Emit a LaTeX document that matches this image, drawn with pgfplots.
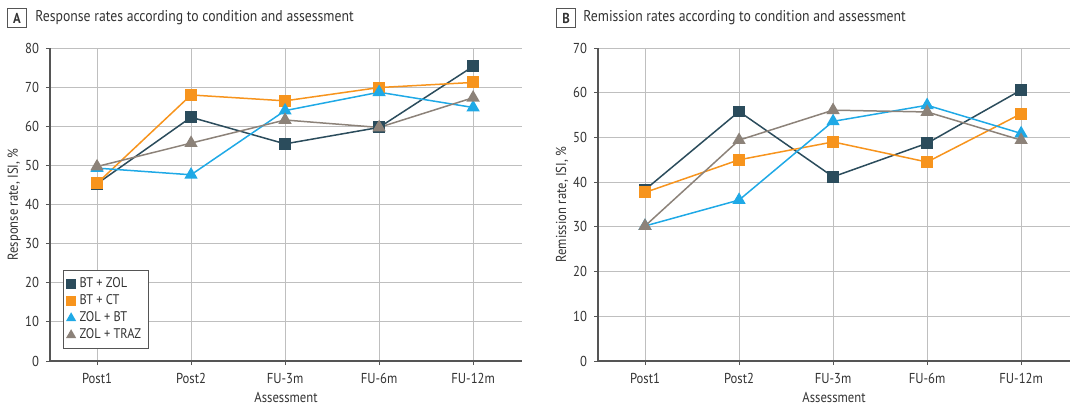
\documentclass[border=0pt]{standalone}
\usepackage{pgfplots}
\pgfplotsset{compat=1.18}
\usepackage{fontspec}
\setmainfont{PT Sans}[FakeStretch=0.88]
\definecolor{btzol}{HTML}{2B4C5C}
\definecolor{btct}{HTML}{F7941D}
\definecolor{zolbt}{HTML}{1FA9E6}
\definecolor{zoltraz}{HTML}{8C8279}
\definecolor{axgray}{HTML}{555555}
\definecolor{grid}{HTML}{DCDCDC}
\definecolor{txt}{HTML}{333333}
\pgfplotsset{
  panel/.style={
    scale only axis, width=236pt, height=156.5pt,
    anchor=south west,
    xmin=-0.5, xmax=4.52,
    axis x line*=bottom, axis y line*=left,
    axis line style={axgray, line width=0.6pt},
    xtick={0,1,2,3,4},
    xticklabels={Post1,Post2,FU-3m,FU-6m,FU-12m},
    tick align=outside, major tick length=2pt,
    tick style={axgray, line width=0.5pt},
    ymajorgrids, grid style={grid, line width=0.5pt},
    /pgf/number format/assume math mode=true,
    tick label style={font=\fontsize{7.2}{8}\selectfont, text=txt},
    xticklabel style={yshift=-0.5pt},
    xlabel={Assessment},
    xlabel style={at={(axis description cs:0.5,-0.118)}, anchor=center, font=\fontsize{7.2}{8}\selectfont, text=txt},
    ylabel style={at={(axis description cs:-0.076,0.5)}, rotate=0, anchor=center, font=\fontsize{7.2}{8}\selectfont, text=txt},
    every axis plot/.append style={line width=0.75pt},
  },
  s1/.style={btzol, mark=square*, mark size=2.6pt, mark options={fill=btzol, draw=btzol}},
  s2/.style={btct, mark=square*, mark size=2.6pt, mark options={fill=btct, draw=btct}},
  s3/.style={zolbt, mark=triangle*, mark size=3.1pt, mark options={fill=zolbt, draw=zolbt}},
  s4/.style={zoltraz, mark=triangle*, mark size=3.1pt, mark options={fill=zoltraz, draw=zoltraz}},
}
\begin{document}
\begin{tikzpicture}
\path[use as bounding box] (0,0) rectangle (540pt,204.5pt);

% Panel A
\node[draw=axgray, line width=0.5pt, inner sep=1.5pt, minimum width=9.5pt, minimum height=9.5pt, font=\fontsize{7.2}{8}\selectfont\bfseries, text=txt] at (8.5pt,195.5pt) {A};
\node[anchor=west, inner sep=0pt, font=\fontsize{7.8}{9}\selectfont, text=txt] at (17.5pt,195.5pt) {Response rates according to condition and assessment};
\begin{axis}[panel, at={(25pt,24pt)},
    ymin=0, ymax=80, ytick={0,10,...,80},
    ylabel={Response rate, ISI, \%},
    legend style={at={(axis description cs:0.028,0.038)}, anchor=south west,
      draw=axgray, line width=0.5pt, font=\fontsize{7}{8}\selectfont, text=txt,
      inner sep=1.5pt, row sep=-2pt, cells={anchor=west}},
    legend image code/.code={\draw[#1,only marks,mark size=2.2pt] plot coordinates {(0.08cm,0cm)};},
  ]
  \addplot[s1] coordinates {(0,45.3)(1,62.3)(2,55.5)(3,59.7)(4,75.3)};
  \addlegendentry{BT + ZOL}
  \addplot[s2] coordinates {(0,45.4)(1,68.0)(2,66.5)(3,69.9)(4,71.2)};
  \addlegendentry{BT + CT}
  \addplot[s3] coordinates {(0,49.3)(1,47.6)(2,64.0)(3,68.7)(4,64.8)};
  \addlegendentry{ZOL + BT}
  \addplot[s4] coordinates {(0,49.7)(1,55.7)(2,61.6)(3,59.7)(4,67.3)};
  \addlegendentry{ZOL + TRAZ}
\end{axis}

% Panel B
\node[draw=axgray, line width=0.5pt, inner sep=1.5pt, minimum width=9.5pt, minimum height=9.5pt, font=\fontsize{7.2}{8}\selectfont\bfseries, text=txt] at (283pt,195.5pt) {B};
\node[anchor=west, inner sep=0pt, font=\fontsize{7.8}{9}\selectfont, text=txt] at (291.5pt,195.5pt) {Remission rates according to condition and assessment};
\begin{axis}[panel, at={(299pt,24pt)},
    ymin=0, ymax=70, ytick={0,10,...,70},
    ylabel={Remission rate, ISI, \%},
  ]
  \addplot[s1] coordinates {(0,38.3)(1,55.8)(2,41.2)(3,48.7)(4,60.6)};
  \addplot[s2] coordinates {(0,37.7)(1,45.0)(2,49.0)(3,44.5)(4,55.3)};
  \addplot[s3] coordinates {(0,30.2)(1,36.0)(2,53.6)(3,57.2)(4,50.9)};
  \addplot[s4] coordinates {(0,30.2)(1,49.4)(2,56.1)(3,55.7)(4,49.4)};
\end{axis}
\end{tikzpicture}
\end{document}
